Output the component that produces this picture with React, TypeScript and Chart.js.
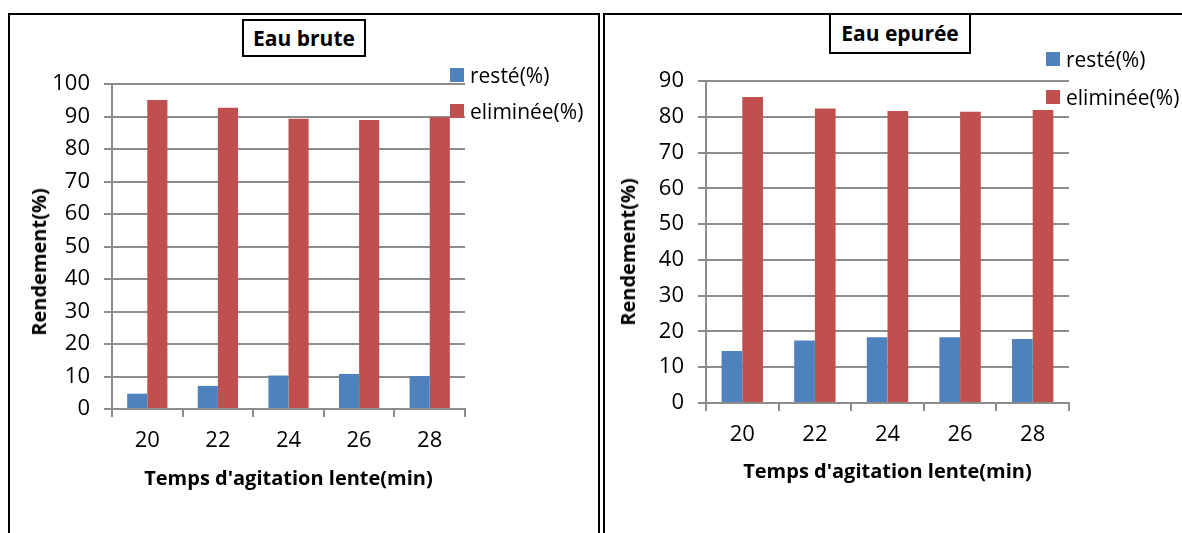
import React, { useEffect, useRef } from 'react';
import { Chart, registerables } from 'chart.js';

Chart.register(...registerables);

// ---------- data ----------
const categories = ['20', '22', '24', '26', '28'];
const seriesLabels = ['resté(%)', 'eliminée(%)'];

const bruteReste = [4.7, 7.1, 10.3, 10.8, 10.1];
const bruteEliminee = [95.1, 92.7, 89.3, 88.9, 89.8];

const epureeReste = [14.5, 17.5, 18.4, 18.4, 17.9];
const epureeEliminee = [85.5, 82.3, 81.6, 81.4, 81.9];

const bruteYMax = 100;
const epureeYMax = 90;
const yStep = 10;

const chartTitles = ['Eau brute', 'Eau epurée'];
const xAxisTitle = "Temps d'agitation lente(min)";
const yAxisTitle = 'Rendement(%)';

// ---------- styles ----------
const BLUE = '#4F81BD';
const RED = '#C0504D';
const GRID = '#8c8c8c';
const FONT = "'Open Sans', sans-serif";

type Box = { left: number; top: number; width: number; height: number };
type Plot = { left: number; right: number; top: number; bottom: number };

function BarChart(props: { box: Box; plot: Plot; reste: number[]; eliminee: number[]; yMax: number }) {
  const ref = useRef<HTMLCanvasElement | null>(null);
  const { box, plot, reste, eliminee, yMax } = props;
  useEffect(() => {
    if (!ref.current) return;
    const padTop = plot.top - box.top;
    const yWidth = plot.left - box.left;
    const padRight = box.left + box.width - plot.right;
    const xHeight = box.top + box.height - plot.bottom;
    const chart = new Chart(ref.current, {
      type: 'bar',
      data: {
        labels: categories,
        datasets: [
          { label: seriesLabels[0], data: reste, backgroundColor: BLUE, categoryPercentage: 0.57, barPercentage: 1 },
          { label: seriesLabels[1], data: eliminee, backgroundColor: RED, categoryPercentage: 0.57, barPercentage: 1 },
        ],
      },
      options: {
        animation: false,
        responsive: false,
        maintainAspectRatio: false,
        events: [],
        layout: { padding: { top: padTop, right: padRight, left: 0, bottom: 0 } },
        plugins: {
          legend: { display: false },
          tooltip: { enabled: false },
          title: { display: false },
        },
        scales: {
          x: {
            offset: true,
            grid: { display: true, drawOnChartArea: false, drawTicks: true, tickLength: 8, color: GRID, lineWidth: 2, offset: true },
            border: { display: true, color: GRID, width: 2 },
            ticks: { font: { family: FONT, size: 22 }, color: '#000', padding: 11, maxRotation: 0, autoSkip: false },
            afterFit: (s: any) => { s.height = xHeight; },
          },
          y: {
            min: 0,
            max: yMax,
            grid: { color: GRID, lineWidth: 2, tickLength: 8, drawTicks: true },
            border: { display: true, color: GRID, width: 2 },
            ticks: { stepSize: yStep, font: { family: FONT, size: 22 }, color: '#000', padding: 14 },
            afterFit: (s: any) => { s.width = yWidth; },
          },
        },
      },
    });
    return () => chart.destroy();
  }, []);
  return (
    <canvas
      ref={ref}
      width={box.width}
      height={box.height}
      style={{ position: 'absolute', left: box.left, top: box.top, width: box.width, height: box.height }}
    />
  );
}

function TitleBox(props: { text: string; left: number; top: number; width: number; height: number }) {
  return (
    <div
      style={{
        position: 'absolute', left: props.left, top: props.top, width: props.width, height: props.height,
        boxSizing: 'border-box', border: '2px solid #000', background: '#fff',
        display: 'flex', alignItems: 'center', justifyContent: 'center',
        fontFamily: FONT, fontWeight: 700, fontSize: 21, lineHeight: 1, whiteSpace: 'nowrap',
      }}
    >
      {props.text}
    </div>
  );
}

function LegendItem(props: { color: string; text: string; x: number; cy: number }) {
  return (
    <>
      <div style={{ position: 'absolute', left: props.x, top: props.cy - 7, width: 14, height: 14, background: props.color }} />
      <div
        style={{
          position: 'absolute', left: props.x + 20, top: props.cy, transform: 'translateY(-50%)',
          fontFamily: FONT, fontSize: 21, lineHeight: 1, whiteSpace: 'nowrap', color: '#000',
        }}
      >
        {props.text}
      </div>
    </>
  );
}

function AxisTitles(props: { xcx: number; xcy: number; ycx: number; ycy: number }) {
  const common: React.CSSProperties = {
    position: 'absolute', fontFamily: FONT, fontWeight: 700, fontSize: 20, lineHeight: 1, whiteSpace: 'nowrap', color: '#000',
  };
  return (
    <>
      <div style={{ ...common, left: props.xcx, top: props.xcy, transform: 'translate(-50%, -50%)' }}>{xAxisTitle}</div>
      <div style={{ ...common, left: props.ycx, top: props.ycy, transform: 'translate(-50%, -50%) rotate(-90deg)' }}>{yAxisTitle}</div>
    </>
  );
}

export default function App() {
  const leftPlot: Plot = { left: 112, right: 465, top: 84, bottom: 409 };
  const rightPlot: Plot = { left: 706, right: 1069, top: 81, bottom: 403 };
  return (
    <div style={{ position: 'absolute', left: 0, top: 0, width: 1182, height: 533, overflow: 'hidden', background: '#fff' }}>
      {/* left panel frame */}
      <div style={{ position: 'absolute', left: 8, top: 13, width: 592, height: 600, boxSizing: 'border-box', borderTop: '2px solid #000', borderLeft: '2px solid #000', borderRight: '2px solid #000' }} />
      {/* right panel frame */}
      <div style={{ position: 'absolute', left: 603, top: 13, width: 620, height: 600, boxSizing: 'border-box', borderTop: '2px solid #000', borderLeft: '2px solid #000' }} />

      <BarChart box={{ left: 10, top: 15, width: 588, height: 450 }} plot={leftPlot} reste={bruteReste} eliminee={bruteEliminee} yMax={bruteYMax} />
      <BarChart box={{ left: 605, top: 15, width: 577, height: 450 }} plot={rightPlot} reste={epureeReste} eliminee={epureeEliminee} yMax={epureeYMax} />

      <TitleBox text={chartTitles[0]} left={242} top={19} width={124} height={38} />
      <TitleBox text={chartTitles[1]} left={829} top={13} width={142} height={41} />

      <LegendItem color={BLUE} text={seriesLabels[0]} x={450} cy={74.5} />
      <LegendItem color={RED} text={seriesLabels[1]} x={450} cy={111} />
      <LegendItem color={BLUE} text={seriesLabels[0]} x={1046} cy={58.7} />
      <LegendItem color={RED} text={seriesLabels[1]} x={1046} cy={96.7} />

      <AxisTitles xcx={288.5} xcy={478} ycx={38.5} ycy={261.7} />
      <AxisTitles xcx={887.5} xcy={471} ycx={628} ycy={252} />
    </div>
  );
}
